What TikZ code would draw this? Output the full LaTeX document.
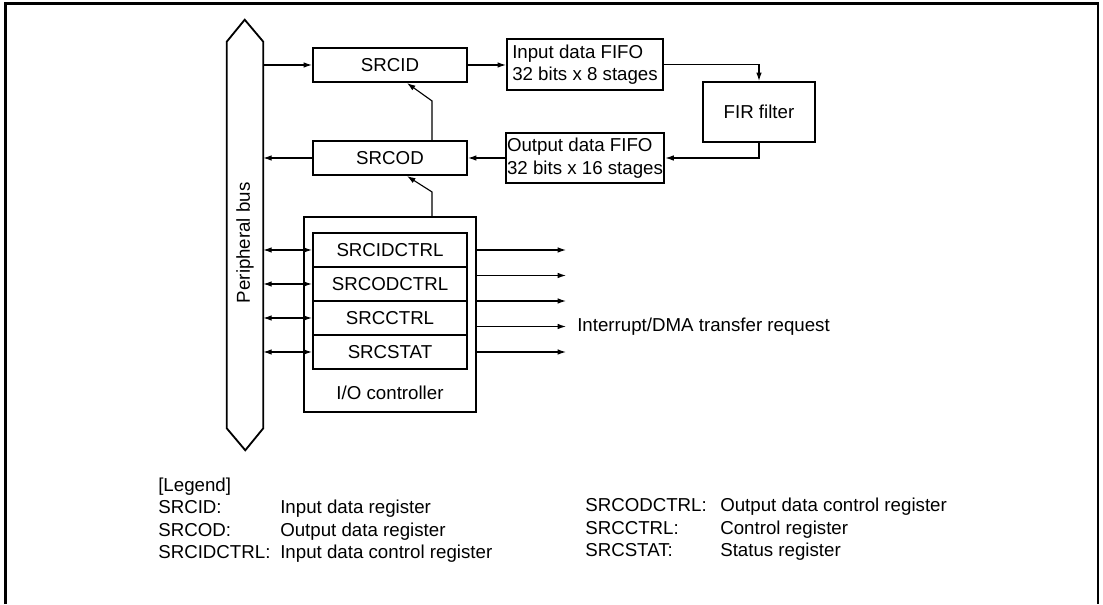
\documentclass[tikz,border=0pt]{standalone}
\usepackage{fontspec}
\setmainfont{Liberation Sans}
\usetikzlibrary{arrows.meta}

\begin{document}
\begin{tikzpicture}[>={Latex[length=6pt,width=4pt]},
    font=\fontsize{13.3}{16}\selectfont,
    blk/.style={draw, line width=1.5pt, minimum width=3.85cm, minimum height=0.85cm},
    fifo/.style={draw, line width=1.5pt, minimum width=3.9cm, minimum height=1.25cm, align=left, inner sep=1pt},
    sig/.style={line width=0.8pt},
    legend/.style={anchor=west, inner sep=0pt, text height=1.7ex, text depth=0.45ex}]
    \useasboundingbox (0,0) rectangle (27.575,15.1);
    \draw[line width=2.1pt] (0.14,0) -- (0.14,15.01) -- (27.45,15.01) -- (27.45,0);

    % peripheral bus
    \node[minimum width=0.9cm, minimum height=9.65cm, inner sep=0pt] (bus) at (6.125,9.225) {};
    \draw[line width=1.3pt] (bus.north west) -- ++(0.45,0.55) -- (bus.north east) -- (bus.south east)
        -- ++(-0.45,-0.55) -- (bus.south west) -- cycle;
    \node[rotate=90] (buslabel) at (6.125,9.03) {Peripheral bus};

    \node[blk] (srcid) at (9.75,13.475) {SRCID};
    \node[blk] (srcod) at (9.75,11.15) {SRCOD};
    \node[fifo, minimum height=1.275cm] (ififo) at (14.625,13.4875) {Input data FIFO\\32 bits x 8 stages};
    \node[fifo] (ofifo) at (14.625,11.15) {Output data FIFO\\32 bits x 16 stages};
    \node[draw, line width=1.5pt, minimum width=2.8cm, minimum height=1.5cm] (fir) at (18.975,12.3) {FIR filter};

    % I/O controller
    \node[blk, minimum width=4.3cm, minimum height=4.875cm] (ioc) at (9.75,7.2375) {};
    \node (ioclabel) at (9.75,5.275) {I/O controller};
    \foreach \n/\t [count=\i from 0] in {rid/SRCIDCTRL, rod/SRCODCTRL, rctrl/SRCCTRL, rstat/SRCSTAT}
        \node[blk] (\n) at (9.75,{8.85-0.85*\i}) {\t};

    \draw[sig,->] (bus.east |- srcid) -- (srcid);
    \draw[sig,->] (srcid.east) -- (srcid.east -| ififo.west);
    \draw[sig,->] (ififo.east) -| (fir.north);
    \draw[sig,->] (fir.south) |- (ofifo.east);
    \draw[sig,->] (ofifo.west) -- (ofifo.west -| srcod.east);
    \draw[sig,->] (srcod) -- (bus.east |- srcod);
    \draw[sig,->] ([xshift=1.05cm]ioc.north) -- ++(0,0.6) -- ([xshift=0.425cm]srcod.south);
    \draw[sig,->] ([xshift=1.05cm]srcod.north) -- ++(0,0.975) -- ([xshift=0.425cm]srcid.south);
    \foreach \n in {rid,rod,rctrl,rstat}
        \draw[sig,<->] (bus.east |- \n) -- (\n);

    % request lines
    \foreach \y [count=\i] in {8.85,8.2125,7.575,6.9375,6.3} {
        \coordinate (out\i) at (14.15,\y);
        \draw[sig,->] (ioc.east |- out\i) -- (out\i);
    }
    \node[anchor=west, inner sep=0pt] (irq) at (14.425,6.925) {Interrupt/DMA transfer request};

    % legend
    \node[legend] (lg) at (3.95,2.925) {[Legend]};
    \node[legend] (k1) at (3.95,2.375) {SRCID:};
    \node[legend] (d1) at (7.0,2.375) {Input data register};
    \node[legend] (k2) at (3.95,1.8125) {SRCOD:};
    \node[legend] (d2) at (7.0,1.8125) {Output data register};
    \node[legend] (k3) at (3.95,1.25) {SRCIDCTRL:};
    \node[legend] (d3) at (7.0,1.25) {Input data control register};
    \node[legend] (k4) at (14.625,2.425) {SRCODCTRL:};
    \node[legend] (d4) at (18.0,2.425) {Output data control register};
    \node[legend] (k5) at (14.625,1.8625) {SRCCTRL:};
    \node[legend] (d5) at (18.0,1.8625) {Control register};
    \node[legend] (k6) at (14.625,1.3) {SRCSTAT:};
    \node[legend] (d6) at (18.0,1.3) {Status register};
\end{tikzpicture}
\end{document}
